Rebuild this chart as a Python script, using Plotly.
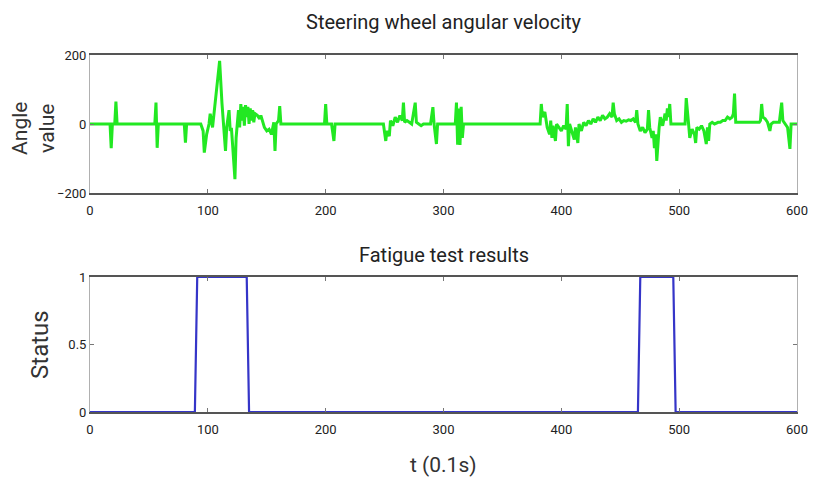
import plotly.graph_objects as go
from plotly.subplots import make_subplots

# Steering wheel angular velocity (breakpoints)
t_angle = [0, 17, 18, 19, 21, 22, 23,
           55, 56, 57, 58,
           80, 81, 82,
           94, 96, 97, 99, 101,
           102, 104, 106, 108, 110, 112, 114, 115, 116, 118, 119, 120, 121, 123, 124,
           126, 127, 128, 129, 130, 131, 132, 133, 134, 135, 136, 137, 138, 139, 140,
           142, 144, 145, 147, 148, 150, 152, 154, 155, 156, 157, 158, 160, 161, 162,
           199, 200, 201, 205, 207, 208,
           249, 251, 252, 254, 255, 257, 259, 261, 263, 265, 266, 267, 269, 271, 273,
           276, 277, 279, 281, 283,
           289, 291, 292, 294, 295,
           310, 311, 312, 313, 314, 315, 316, 317,
           382, 383, 384, 386, 388, 390, 391, 392, 393, 395, 396, 398, 400, 402, 404,
           405, 406, 407, 409, 411, 412, 414, 415, 417, 419, 421, 423, 425, 427, 429,
           431, 433, 435, 437, 439, 441, 443, 444, 445, 447, 449, 451, 453, 455, 457,
           459, 461, 463, 464, 465, 467, 469, 471, 473, 474, 475, 477, 478, 479, 480,
           481, 482, 483, 484, 486, 488, 489, 490, 491, 492, 493, 495, 500, 505,
           506, 507, 508, 509, 511, 513, 514, 515, 517, 519, 521, 523, 524, 525, 526,
           528, 530, 533, 535, 537, 539, 541, 543, 545, 546, 547, 548, 550, 560, 568,
           569, 570, 571, 573, 575, 577, 578, 580, 585, 587, 588, 590, 592, 594, 595,
           597, 600]
angle = [0, 0, -70, 0, 0, 65, 0,
         0, 62, -69, 0,
         0, -54, 0,
         0, -20, -83, -30, 0,
         30, -10, 60, 120, 183, 60, -30, -78, -10, 40, -20, -11, -60, -160, -40,
         40, -10, 58, 10, 50, -5, 55, 20, 50, 0, 45, 10, 40, 5, 30,
         25, 15, 25, 0, -10, -20, -15, -30, -10, 5, -78, 0, 10, 52, 0,
         0, 58, 0, 0, -49, 0,
         0, -49, -20, -35, 10, -5, 20, 5, 25, 10, 62, 5, 10, 5, 0,
         62, 5, 0, -5, 0,
         0, 49, 0, -58, 0,
         0, 62, -60, 45, -61, 50, -40, 0,
         0, 58, 20, 35, -10, -30, 10, -40, -5, -49, 0, -10, -20, -5, -15,
         58, -64, 0, -25, -45, -10, -55, 0, -20, 5, -5, 10, 0, 15, 5,
         20, 10, 25, 15, 20, 30, 20, 62, 30, 10, 15, 5, 10, 8, 12,
         10, 15, 5, 40, 0, -20, -10, -25, -15, 40, -10, -40, -20, -70, -30,
         -107, -40, -10, 20, -5, 30, 10, 45, 20, 58, 0, 0, 0, 0,
         75, 20, 0, -40, -15, -30, -55, -10, -15, -5, -20, -58, -10, -49, 0,
         5, 0, 5, 5, 10, 10, 20, 15, 20, 30, 88, 5, 5, 5, 5,
         10, 58, 20, 15, 5, -20, 0, 5, 5, 62, 10, 0, -10, -72, 0,
         0, 0]

# Fatigue test results
t_status = [0, 89, 91, 133, 135, 465, 467, 495, 497, 600]
status = [0, 0, 1, 1, 0, 0, 1, 1, 0, 0]

x_ticks = [0, 100, 200, 300, 400, 500, 600]
top_yticks = [-200, 0, 200]
bot_yticks = [0, 0.5, 1]

FONT = "Roboto, sans-serif"

fig = make_subplots(rows=2, cols=1, vertical_spacing=0.0)
fig.add_trace(go.Scatter(x=t_angle, y=angle, mode="lines",
                         line=dict(color="#22e822", width=3), showlegend=False),
              row=1, col=1)
fig.add_trace(go.Scatter(x=t_status, y=status, mode="lines",
                         line=dict(color="#3535c8", width=2.2), showlegend=False,
                         cliponaxis=False),
              row=2, col=1)

xcommon = dict(range=[0, 600], tickvals=x_ticks, ticks="inside", ticklen=4,
               showgrid=False, zeroline=False, showline=True, linecolor="#555555",
               linewidth=1.5, mirror="ticks", tickcolor="#777777",
               automargin=False, ticklabelstandoff=5,
               tickfont=dict(family=FONT, size=13, color="#222222"))
ycommon = dict(ticks="inside", ticklen=4, showgrid=False, zeroline=False,
               showline=True, linecolor="#b0b0b0", linewidth=1, mirror="ticks",
               tickcolor="#777777", automargin=False,
               tickfont=dict(family=FONT, size=13, color="#222222"))

fig.update_layout(
    width=816, height=489,
    margin=dict(l=90, r=19, t=55, b=77),
    paper_bgcolor="white", plot_bgcolor="white",
    xaxis=dict(domain=[0, 1], anchor="y", **xcommon),
    yaxis=dict(domain=[0.6134, 1], anchor="x", range=[-200, 200],
               tickvals=top_yticks, **ycommon),
    xaxis2=dict(domain=[0, 1], anchor="y2", **xcommon),
    yaxis2=dict(domain=[0, 0.3782], anchor="x2", range=[0, 1],
                tickvals=bot_yticks, ticktext=["0", "0.5", "1"], **ycommon),
    annotations=[
        dict(text="Steering wheel angular velocity", xref="paper", yref="paper",
             x=0.5, y=1.0, yshift=33, showarrow=False,
             xanchor="center", yanchor="middle",
             font=dict(family=FONT, size=20, color="#222222")),
        dict(text="Fatigue test results", xref="paper", yref="paper",
             x=0.5, y=0.3782, yshift=22, showarrow=False,
             xanchor="center", yanchor="middle",
             font=dict(family=FONT, size=20, color="#222222")),
        dict(text="Angle<br>value", xref="paper", yref="paper",
             x=-0.081, y=0.795, textangle=-90, showarrow=False,
             xanchor="center", yanchor="middle",
             font=dict(family=FONT, size=21, color="#333333")),
        dict(text="Status", xref="paper", yref="paper",
             x=-0.0707, y=0.188, textangle=-90, showarrow=False,
             xanchor="center", yanchor="middle",
             font=dict(family=FONT, size=24, color="#333333")),
        dict(text="t (0.1s)", xref="paper", yref="paper",
             x=0.5, y=0, yshift=-53, showarrow=False,
             xanchor="center", yanchor="middle",
             font=dict(family=FONT, size=21, color="#333333")),
    ],
)

fig.write_html("out.html", config={"displayModeBar": False},
               post_script="document.body.style.margin='0';document.body.style.overflow='hidden';")
